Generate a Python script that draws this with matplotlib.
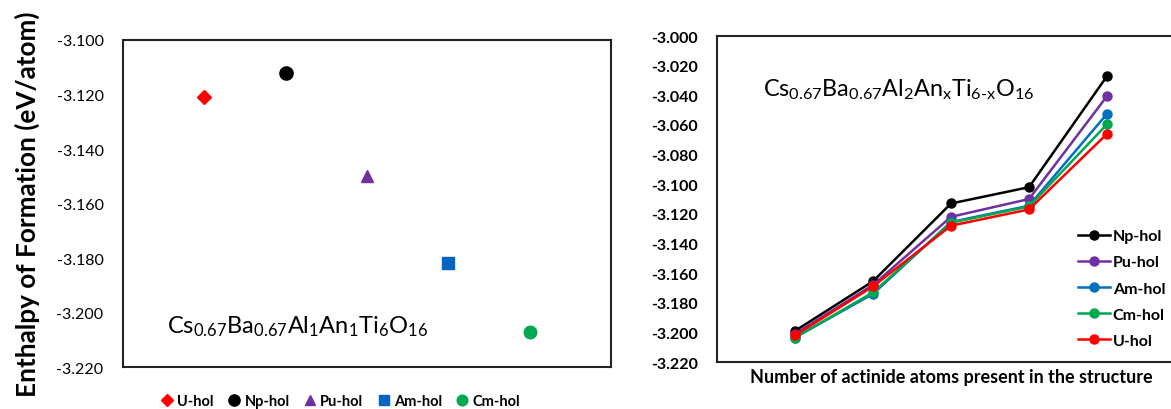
import matplotlib
matplotlib.use("Agg")
import matplotlib.pyplot as plt

plt.rcParams['font.family'] = ['Lato', 'DejaVu Sans']
plt.rcParams['mathtext.fontset'] = 'custom'
plt.rcParams['mathtext.rm'] = 'Lato'

# left panel: one actinide per cell
single_names = ['U-hol', 'Np-hol', 'Pu-hol', 'Am-hol', 'Cm-hol']
single_x = [1, 2, 3, 4, 5]
single_vals = [-3.121, -3.112, -3.150, -3.182, -3.207]
single_marks = ['D', 'o', '^', 's', 'o']
single_cols = ['#FF0000', '#000000', '#7030A0', '#0563C1', '#00A850']
single_sizes = [7, 9.5, 9, 9, 9]

# right panel: number of actinide atoms
n_atoms = [1, 2, 3, 4, 5]
series = {
    'Np-hol': [-3.199, -3.1655, -3.113, -3.102, -3.027],
    'Pu-hol': [-3.201, -3.168, -3.122, -3.110, -3.0405],
    'Am-hol': [-3.2035, -3.174, -3.1255, -3.1145, -3.0525],
    'Cm-hol': [-3.2035, -3.173, -3.126, -3.115, -3.0595],
    'U-hol': [-3.202, -3.169, -3.128, -3.117, -3.066],
}
series_cols = {'Np-hol': '#000000', 'Pu-hol': '#7030A0', 'Am-hol': '#0070C0',
               'Cm-hol': '#00A850', 'U-hol': '#FF0000'}

left_ticks = [-3.100, -3.120, -3.140, -3.160, -3.180, -3.200, -3.220]
right_ticks = [-3.000 - 0.02 * i for i in range(12)]

fig = plt.figure(figsize=(11.71, 4.10), dpi=100)
ax1 = fig.add_axes([0.105, 0.1024, 0.4167, 0.7976])
ax2 = fig.add_axes([0.6123, 0.1146, 0.3997, 0.795])

for i in range(len(single_names)):
    ax1.plot(single_x[i], single_vals[i], linestyle='none', marker=single_marks[i],
             color=single_cols[i], markersize=single_sizes[i], label=single_names[i])
ax1.set_xlim(0, 6)
ax1.set_ylim(-3.220, -3.100)
ax1.set_yticks(left_ticks)
ax1.set_yticklabels(['%.3f' % t for t in left_ticks], fontsize=11.5)
ax1.set_xticks([])
ax1.tick_params(axis='y', length=0, pad=14)
ax1.set_ylabel('Enthalpy of Formation (eV/atom)', fontsize=18.8, fontweight='bold', labelpad=12)
ax1.text(0.09, 0.125, r'$\mathregular{Cs_{0.67}Ba_{0.67}Al_{1}An_{1}Ti_{6}O_{16}}$',
         transform=ax1.transAxes, fontsize=17, va='center')

for name, vals in series.items():
    ax2.plot(n_atoms, vals, color=series_cols[name], marker='o', markersize=6.5,
             linewidth=1.8, label=name)
ax2.set_xlim(0, 6)
ax2.set_ylim(-3.220, -3.000)
ax2.set_yticks(right_ticks)
ax2.set_yticklabels(['%.3f' % t for t in right_ticks], fontsize=11.5, fontweight='bold')
ax2.set_xticks([])
ax2.tick_params(axis='y', length=0, pad=14)
ax2.set_xlabel('Number of actinide atoms present in the structure', fontsize=13,
               fontweight='bold', labelpad=4)
ax2.text(0.098, 0.84, r'$\mathregular{Cs_{0.67}Ba_{0.67}Al_{2}An_{x}Ti_{6\text{-}x}O_{16}}$',
         transform=ax2.transAxes, fontsize=16.8, va='center')

for ax in (ax1, ax2):
    for s in ax.spines.values():
        s.set_linewidth(1.5)
        s.set_color('#222222')

h1, l1 = ax1.get_legend_handles_labels()
fig.legend(h1, l1, loc='center', bbox_to_anchor=(0.291, 0.02), ncol=5, frameon=False,
           handlelength=0.8, handletextpad=0.3, columnspacing=1.0, borderpad=0,
           prop={'size': 10.5, 'weight': 'bold'}, markerscale=0.85)

h2, l2 = ax2.get_legend_handles_labels()
fig.legend(h2, l2, loc='center left', bbox_to_anchor=(0.921, 0.294), frameon=False,
           handlelength=2.0, handletextpad=0.15, labelspacing=0.75, borderpad=0,
           borderaxespad=0, prop={'size': 11.5, 'weight': 'bold'})

fig.savefig('out.png', dpi=100)
